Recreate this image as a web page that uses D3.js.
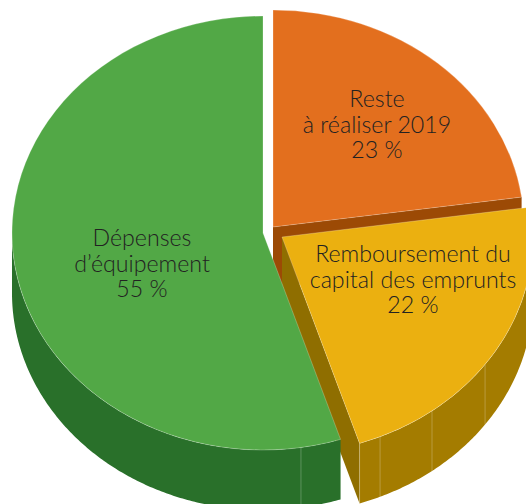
<!DOCTYPE html>
<html>
<head>
<meta charset="utf-8">
<script src="https://cdn.jsdelivr.net/npm/d3@7"></script>
<style>
  html, body { margin: 0; padding: 0; background: #fff; }
  svg { display: block; }
  text { font-family: Lato, "Open Sans", sans-serif; font-size: 23.2px; font-weight: 300; fill: #222; text-anchor: middle; }
</style>
</head>
<body>
<div id="chart"></div>
<script>
const categories = ['Reste à réaliser 2019', 'Remboursement du capital des emprunts', 'Dépenses d’équipement']
// shares as measured on the slices, the labels show them rounded
const values = [22.8, 22.2, 55]
const labelLines = [
  ['Reste', 'à réaliser 2019', '23 %'],
  ['Remboursement du', 'capital des emprunts', '22 %'],
  ['Dépenses', 'd’équipement', '55 %']
]
// angle of the pale seams on the outer wall, degrees clockwise from top
const seams = [[], [126, 143.3, 157, 162], [171.3]]

const topColors = ['#E36F1E', '#EBB010', '#52A846']
const wallColors = ['#9C4A05', '#A47C00', '#29702A']
const innerColors = ['#9C4A05', '#8F6E00', '#29702A']

const w = 526
const h = 504
const rx = 251
const ry = 217
const depth = 60
// exploded slice centres and label anchors
const centers = [[273, 227], [282, 237], [263, 233]]
const labelPos = [[377, 107], [413, 262], [142, 246]]
const lineGap = 25.6

const svg = d3.select('#chart').append('svg')
  .attr('width', w)
  .attr('height', h)

const pie = d3.pie().sort(null)(values)
const arc = d3.arc().innerRadius(0).outerRadius(rx)
const line = d3.line()
const rad = d => d * Math.PI / 180

pie.forEach((d, i) => {
  const [cx, cy] = centers[i]
  const pt = (a, dy = 0) => [cx + rx * Math.sin(a), cy - ry * Math.cos(a) + dy]
  const g = svg.append('g').attr('class', 'slice')

  // straight wall along the slice's end edge
  const end = d.endAngle
  g.append('path')
    .attr('fill', innerColors[i])
    .attr('d', line([[cx, cy], pt(end), pt(end, depth), [cx, cy + depth]]) + 'Z')

  // outer wall, only the front half of the ellipse
  const from = Math.max(d.startAngle, Math.PI / 2)
  const to = Math.min(d.endAngle, Math.PI * 1.5)
  if (to > from) {
    const steps = d3.range(from, to, 0.01).concat([to])
    const upper = steps.map(a => pt(a))
    const lower = steps.map(a => pt(a, depth)).reverse()
    g.append('path')
      .attr('fill', wallColors[i])
      .attr('d', line(upper.concat(lower)) + 'Z')
  }

  seams[i].forEach(s => {
    const a = rad(s)
    const [x1, y1] = pt(a)
    const [x2, y2] = pt(a, depth)
    g.append('line')
      .attr('x1', x1).attr('y1', y1).attr('x2', x2).attr('y2', y2)
      .attr('stroke', '#fff').attr('stroke-opacity', 0.3).attr('stroke-width', 0.8)
  })

  // top face
  g.append('path')
    .attr('transform', `translate(${cx},${cy}) scale(1,${ry / rx})`)
    .attr('fill', topColors[i])
    .attr('stroke', '#fff')
    .attr('stroke-opacity', 0.35)
    .attr('stroke-width', 0.7)
    .attr('vector-effect', 'non-scaling-stroke')
    .attr('d', arc(d))
})

labelLines.forEach((lines, i) => {
  const t = svg.append('text').attr('aria-label', categories[i])
  lines.forEach((s, j) => {
    t.append('tspan')
      .attr('x', labelPos[i][0])
      .attr('y', labelPos[i][1] + j * lineGap)
      .text(s)
  })
})
</script>
</body>
</html>
